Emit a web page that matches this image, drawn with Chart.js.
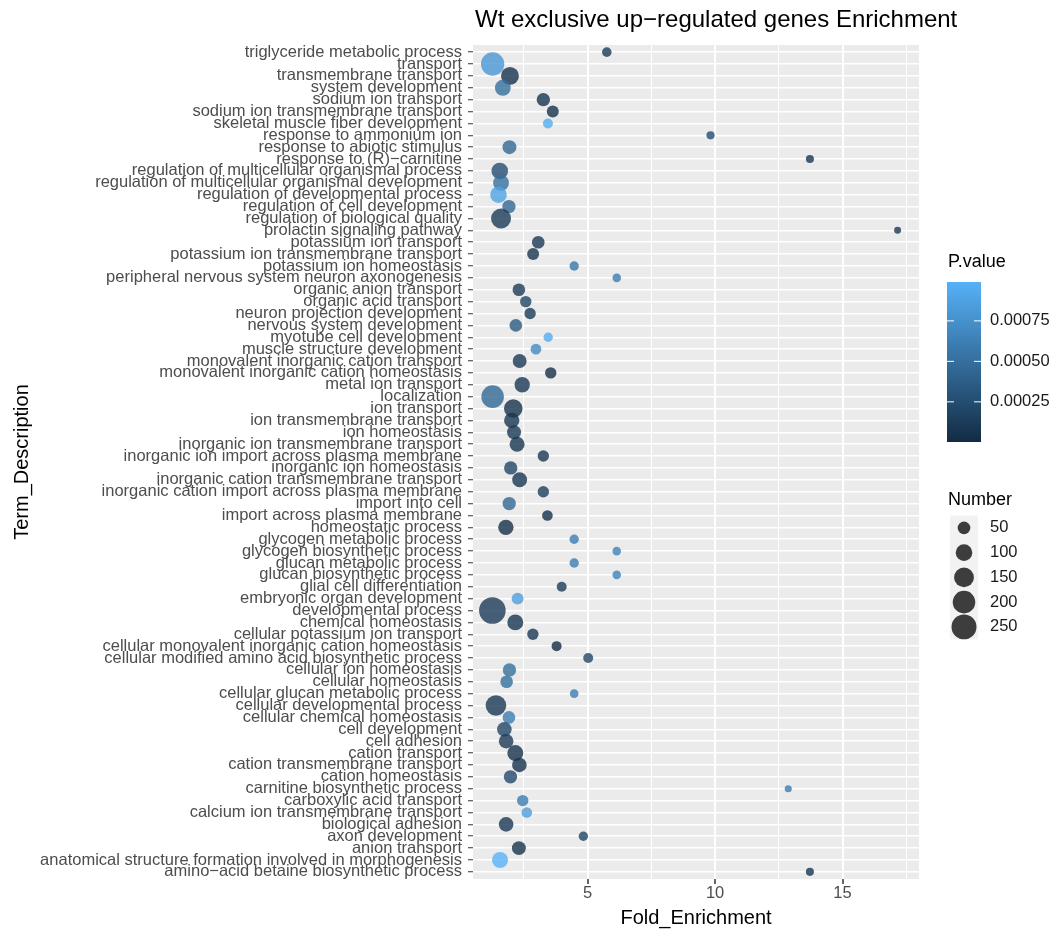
<!DOCTYPE html>
<html>
<head>
<meta charset="utf-8">
<script src="https://cdn.jsdelivr.net/npm/chart.js@4.4.1/dist/chart.umd.min.js"></script>
<style>
  html, body { margin: 0; padding: 0; background: #fff; }
</style>
</head>
<body>
<canvas id="enrichChart" width="1057" height="930"></canvas>
<script>
// GO terms, top to bottom as in the plot
const terms = [
  'triglyceride metabolic process', 'transport', 'transmembrane transport', 'system development',
  'sodium ion transport', 'sodium ion transmembrane transport', 'skeletal muscle fiber development',
  'response to ammonium ion', 'response to abiotic stimulus', 'response to (R)−carnitine',
  'regulation of multicellular organismal process', 'regulation of multicellular organismal development',
  'regulation of developmental process', 'regulation of cell development', 'regulation of biological quality',
  'prolactin signaling pathway', 'potassium ion transport', 'potassium ion transmembrane transport',
  'potassium ion homeostasis', 'peripheral nervous system neuron axonogenesis', 'organic anion transport',
  'organic acid transport', 'neuron projection development', 'nervous system development',
  'myotube cell development', 'muscle structure development', 'monovalent inorganic cation transport',
  'monovalent inorganic cation homeostasis', 'metal ion transport', 'localization', 'ion transport',
  'ion transmembrane transport', 'ion homeostasis', 'inorganic ion transmembrane transport',
  'inorganic ion import across plasma membrane', 'inorganic ion homeostasis',
  'inorganic cation transmembrane transport', 'inorganic cation import across plasma membrane',
  'import into cell', 'import across plasma membrane', 'homeostatic process', 'glycogen metabolic process',
  'glycogen biosynthetic process', 'glucan metabolic process', 'glucan biosynthetic process',
  'glial cell differentiation', 'embryonic organ development', 'developmental process', 'chemical homeostasis',
  'cellular potassium ion transport', 'cellular monovalent inorganic cation homeostasis',
  'cellular modified amino acid biosynthetic process', 'cellular ion homeostasis', 'cellular homeostasis',
  'cellular glucan metabolic process', 'cellular developmental process', 'cellular chemical homeostasis',
  'cell development', 'cell adhesion', 'cation transport', 'cation transmembrane transport',
  'cation homeostasis', 'carnitine biosynthetic process', 'carboxylic acid transport',
  'calcium ion transmembrane transport', 'biological adhesion', 'axon development', 'anion transport',
  'anatomical structure formation involved in morphogenesis', 'amino−acid betaine biosynthetic process'
];

const foldEnrichment = [
  5.75, 1.27, 1.95, 1.67, 3.26, 3.63, 3.44, 9.82, 1.93, 13.72,
  1.55, 1.60, 1.50, 1.91, 1.60, 17.16, 3.06, 2.86, 4.47, 6.14,
  2.30, 2.57, 2.74, 2.18, 3.45, 2.97, 2.33, 3.55, 2.43, 1.27,
  2.08, 2.02, 2.11, 2.23, 3.26, 1.98, 2.33, 3.26, 1.92, 3.42,
  1.79, 4.47, 6.14, 4.47, 6.14, 3.98, 2.25, 1.26, 2.16, 2.85,
  3.78, 5.02, 1.93, 1.82, 4.47, 1.40, 1.91, 1.73, 1.80, 2.16,
  2.32, 1.97, 12.87, 2.45, 2.61, 1.80, 4.83, 2.30, 1.56, 13.72
];

const pValues = [
  0.00012, 0.00080, 0.00005, 0.00050, 0.00008, 0.00005, 0.00095, 0.00025, 0.00045, 0.00008,
  0.00025, 0.00050, 0.00088, 0.00045, 0.00012, 0.00010, 0.00010, 0.00008, 0.00055, 0.00060,
  0.00012, 0.00020, 0.00012, 0.00035, 0.00095, 0.00070, 0.00010, 0.00003, 0.00010, 0.00045,
  0.00005, 0.00008, 0.00010, 0.00008, 0.00010, 0.00020, 0.00008, 0.00015, 0.00045, 0.00003,
  0.00003, 0.00060, 0.00065, 0.00060, 0.00065, 0.00012, 0.00085, 0.00012, 0.00008, 0.00010,
  0.000002, 0.00020, 0.00050, 0.00050, 0.00060, 0.00010, 0.00060, 0.00020, 0.00012, 0.00005,
  0.00005, 0.00022, 0.00060, 0.00060, 0.00085, 0.00010, 0.00020, 0.00005, 0.00099, 0.00008
];

const geneNumbers = [
  20, 215, 120, 90, 58, 43, 24, 10, 65, 9,
  100, 90, 100, 58, 153, 2, 50, 43, 19, 13,
  50, 37, 37, 50, 19, 30, 65, 37, 83, 201,
  130, 83, 65, 78, 37, 58, 78, 37, 58, 30,
  83, 19, 13, 19, 13, 24, 43, 286, 91, 37,
  24, 24, 58, 50, 13, 164, 50, 73, 73, 91,
  73, 58, 3, 37, 30, 73, 19, 65, 91, 9
];

const xTicks = [2.5, 5, 7.5, 10, 12.5, 15, 17.5];
const pValueBreaks = [0.00025, 0.0005, 0.00075];
const numberBreaks = [50, 100, 150, 200, 250];
const chartTitle = 'Wt exclusive up−regulated genes Enrichment';

const FONT = "'Liberation Sans', Arial, sans-serif";
Chart.defaults.font.family = FONT;

const LOW = [19, 43, 67];
const HIGH = [86, 177, 247];
const pMin = Math.min(...pValues);
const pMax = Math.max(...pValues);

function pColor(p, alpha) {
  const t = (p - pMin) / (pMax - pMin);
  const c = LOW.map((l, i) => Math.round(l + (HIGH[i] - l) * t));
  return 'rgba(' + c[0] + ',' + c[1] + ',' + c[2] + ',' + alpha + ')';
}

// area scale, like scale_size
function bubbleRadius(n) {
  return Math.sqrt(11 + 0.58 * n);
}

const points = terms.map((t, i) => ({ x: foldEnrichment[i], y: i, r: bubbleRadius(geneNumbers[i]) }));

const panelBg = {
  id: 'panelBg',
  beforeDraw(chart) {
    const { ctx, chartArea: a } = chart;
    ctx.save();
    ctx.fillStyle = '#EBEBEB';
    ctx.fillRect(a.left, a.top, a.right - a.left, a.bottom - a.top);
    ctx.restore();
  }
};

// title (left aligned with the panel, may run past it) and the two legends
const sideLegend = {
  id: 'sideLegend',
  afterDraw(chart) {
    const ctx = chart.ctx;
    ctx.save();
    ctx.textBaseline = 'middle';
    ctx.textAlign = 'left';

    ctx.fillStyle = '#000';
    ctx.font = '24px ' + FONT;
    ctx.fillText(chartTitle, chart.chartArea.left + 2, 20);

    // colour bar
    ctx.font = '18px ' + FONT;
    ctx.fillText('P.value', 948, 262);
    const bx = 947, bw = 34, bTop = 282, bBot = 442;
    const grad = ctx.createLinearGradient(0, bBot, 0, bTop);
    for (let i = 0; i <= 20; i++) {
      grad.addColorStop(i / 20, pColor(pMin + (pMax - pMin) * i / 20, 1));
    }
    ctx.fillStyle = grad;
    ctx.fillRect(bx, bTop, bw, bBot - bTop);
    ctx.font = '16.5px ' + FONT;
    pValueBreaks.forEach(v => {
      const y = bBot - (v - pMin) / (pMax - pMin) * (bBot - bTop);
      ctx.strokeStyle = '#fff';
      ctx.lineWidth = 1;
      ctx.beginPath();
      ctx.moveTo(bx, y); ctx.lineTo(bx + 7, y);
      ctx.moveTo(bx + bw - 7, y); ctx.lineTo(bx + bw, y);
      ctx.stroke();
      ctx.fillStyle = '#1a1a1a';
      ctx.fillText(v.toFixed(5), 990, y);
    });

    // size legend
    ctx.fillStyle = '#000';
    ctx.font = '18px ' + FONT;
    ctx.fillText('Number', 948, 500);
    const keyTop = 515.5, keyH = 24.75;
    ctx.fillStyle = '#F2F2F2';
    ctx.fillRect(950, keyTop, 28, keyH * numberBreaks.length);
    ctx.font = '16.5px ' + FONT;
    numberBreaks.forEach((n, i) => {
      const y = keyTop + keyH * (i + 0.5);
      ctx.fillStyle = 'rgba(0,0,0,0.75)';
      ctx.beginPath();
      ctx.arc(964, y, bubbleRadius(n), 0, Math.PI * 2);
      ctx.fill();
      ctx.fillStyle = '#1a1a1a';
      ctx.fillText(String(n), 990, y);
    });
    ctx.restore();
  }
};

new Chart(document.getElementById('enrichChart'), {
  type: 'bubble',
  data: {
    datasets: [{
      data: points,
      backgroundColor: pValues.map(p => pColor(p, 0.8)),
      borderWidth: 0
    }]
  },
  options: {
    responsive: false,
    animation: false,
    events: [],
    layout: { padding: { left: 0, right: 138, top: 45, bottom: 0 } },
    plugins: {
      legend: { display: false },
      tooltip: { enabled: false },
      title: { display: false }
    },
    scales: {
      x: {
        type: 'linear',
        min: 0.5,
        max: 18,
        afterBuildTicks: s => { s.ticks = xTicks.map(v => ({ value: v })); },
        afterFit: s => { s.height = 51; },
        border: { display: false },
        grid: {
          color: '#fff',
          lineWidth: c => (c.tick && c.tick.value % 5 === 0 ? 2 : 1),
          tickLength: 5,
          tickWidth: 1.5,
          tickColor: c => (c.tick && c.tick.value % 5 === 0 ? '#333' : 'rgba(0,0,0,0)')
        },
        ticks: {
          autoSkip: false,
          maxRotation: 0,
          minRotation: 0,
          padding: 0,
          color: '#4d4d4d',
          font: { size: 16.5 },
          callback: v => (v % 5 === 0 ? String(v) : '')
        },
        title: {
          display: true,
          text: 'Fold_Enrichment',
          color: '#000',
          font: { size: 20 },
          padding: { top: 0, bottom: 0 }
        }
      },
      y: {
        type: 'linear',
        reverse: true,
        min: -0.6,
        max: terms.length - 0.4,
        afterBuildTicks: s => { s.ticks = terms.map((t, i) => ({ value: i })); },
        afterFit: s => { s.width = 473; },
        border: { display: false },
        grid: { color: '#fff', lineWidth: 1.5, tickLength: 5, tickWidth: 1, tickColor: '#333' },
        ticks: {
          autoSkip: false,
          padding: 6,
          color: '#4d4d4d',
          font: { size: 16.5 },
          callback: v => terms[v]
        },
        title: {
          display: true,
          text: 'Term_Description',
          color: '#000',
          font: { size: 20 },
          padding: { top: 10, bottom: 0 }
        }
      }
    }
  },
  plugins: [panelBg, sideLegend]
});
</script>
</body>
</html>
